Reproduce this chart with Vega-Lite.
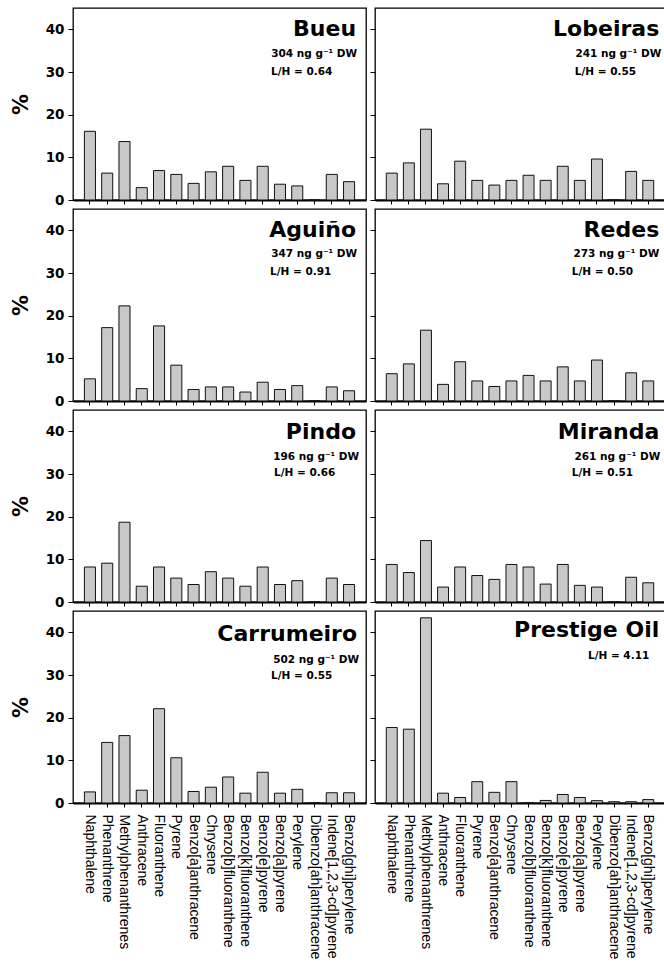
{
  "$schema": "https://vega.github.io/schema/vega-lite/v6.json",
  "padding": {"left": 9, "top": 7, "right": 0, "bottom": 0},
  "background": "white",
  "datasets": {
    "pah": [
      {"site":"Bueu","compound":"Naphthalene","pct":16.1},{"site":"Bueu","compound":"Phenanthrene","pct":6.3},{"site":"Bueu","compound":"Methylphenanthrenes","pct":13.7},{"site":"Bueu","compound":"Anthracene","pct":2.9},{"site":"Bueu","compound":"Fluoranthene","pct":6.9},{"site":"Bueu","compound":"Pyrene","pct":6.0},{"site":"Bueu","compound":"Benzo[a]anthracene","pct":3.9},{"site":"Bueu","compound":"Chrysene","pct":6.6},{"site":"Bueu","compound":"Benzo[b]fluoranthene","pct":7.9},{"site":"Bueu","compound":"Benzo[k]fluoranthene","pct":4.6},{"site":"Bueu","compound":"Benzo[e]pyrene","pct":7.9},{"site":"Bueu","compound":"Benzo[a]pyrene","pct":3.7},{"site":"Bueu","compound":"Perylene","pct":3.3},{"site":"Bueu","compound":"Dibenzo[ah]anthracene","pct":0},{"site":"Bueu","compound":"Indene[1,2,3-cd]pyrene","pct":6.0},{"site":"Bueu","compound":"Benzo[ghi]perylene","pct":4.3},
      {"site":"Lobeiras","compound":"Naphthalene","pct":6.3},{"site":"Lobeiras","compound":"Phenanthrene","pct":8.7},{"site":"Lobeiras","compound":"Methylphenanthrenes","pct":16.6},{"site":"Lobeiras","compound":"Anthracene","pct":3.8},{"site":"Lobeiras","compound":"Fluoranthene","pct":9.1},{"site":"Lobeiras","compound":"Pyrene","pct":4.6},{"site":"Lobeiras","compound":"Benzo[a]anthracene","pct":3.5},{"site":"Lobeiras","compound":"Chrysene","pct":4.6},{"site":"Lobeiras","compound":"Benzo[b]fluoranthene","pct":5.8},{"site":"Lobeiras","compound":"Benzo[k]fluoranthene","pct":4.6},{"site":"Lobeiras","compound":"Benzo[e]pyrene","pct":7.9},{"site":"Lobeiras","compound":"Benzo[a]pyrene","pct":4.6},{"site":"Lobeiras","compound":"Perylene","pct":9.6},{"site":"Lobeiras","compound":"Dibenzo[ah]anthracene","pct":0},{"site":"Lobeiras","compound":"Indene[1,2,3-cd]pyrene","pct":6.7},{"site":"Lobeiras","compound":"Benzo[ghi]perylene","pct":4.6},
      {"site":"Aguiño","compound":"Naphthalene","pct":5.2},{"site":"Aguiño","compound":"Phenanthrene","pct":17.2},{"site":"Aguiño","compound":"Methylphenanthrenes","pct":22.3},{"site":"Aguiño","compound":"Anthracene","pct":2.9},{"site":"Aguiño","compound":"Fluoranthene","pct":17.6},{"site":"Aguiño","compound":"Pyrene","pct":8.4},{"site":"Aguiño","compound":"Benzo[a]anthracene","pct":2.7},{"site":"Aguiño","compound":"Chrysene","pct":3.3},{"site":"Aguiño","compound":"Benzo[b]fluoranthene","pct":3.3},{"site":"Aguiño","compound":"Benzo[k]fluoranthene","pct":2.1},{"site":"Aguiño","compound":"Benzo[e]pyrene","pct":4.4},{"site":"Aguiño","compound":"Benzo[a]pyrene","pct":2.7},{"site":"Aguiño","compound":"Perylene","pct":3.6},{"site":"Aguiño","compound":"Dibenzo[ah]anthracene","pct":0},{"site":"Aguiño","compound":"Indene[1,2,3-cd]pyrene","pct":3.3},{"site":"Aguiño","compound":"Benzo[ghi]perylene","pct":2.4},
      {"site":"Redes","compound":"Naphthalene","pct":6.4},{"site":"Redes","compound":"Phenanthrene","pct":8.7},{"site":"Redes","compound":"Methylphenanthrenes","pct":16.6},{"site":"Redes","compound":"Anthracene","pct":3.9},{"site":"Redes","compound":"Fluoranthene","pct":9.2},{"site":"Redes","compound":"Pyrene","pct":4.7},{"site":"Redes","compound":"Benzo[a]anthracene","pct":3.4},{"site":"Redes","compound":"Chrysene","pct":4.7},{"site":"Redes","compound":"Benzo[b]fluoranthene","pct":6.0},{"site":"Redes","compound":"Benzo[k]fluoranthene","pct":4.7},{"site":"Redes","compound":"Benzo[e]pyrene","pct":8.0},{"site":"Redes","compound":"Benzo[a]pyrene","pct":4.7},{"site":"Redes","compound":"Perylene","pct":9.6},{"site":"Redes","compound":"Dibenzo[ah]anthracene","pct":0},{"site":"Redes","compound":"Indene[1,2,3-cd]pyrene","pct":6.6},{"site":"Redes","compound":"Benzo[ghi]perylene","pct":4.7},
      {"site":"Pindo","compound":"Naphthalene","pct":8.2},{"site":"Pindo","compound":"Phenanthrene","pct":9.1},{"site":"Pindo","compound":"Methylphenanthrenes","pct":18.7},{"site":"Pindo","compound":"Anthracene","pct":3.7},{"site":"Pindo","compound":"Fluoranthene","pct":8.2},{"site":"Pindo","compound":"Pyrene","pct":5.6},{"site":"Pindo","compound":"Benzo[a]anthracene","pct":4.1},{"site":"Pindo","compound":"Chrysene","pct":7.1},{"site":"Pindo","compound":"Benzo[b]fluoranthene","pct":5.6},{"site":"Pindo","compound":"Benzo[k]fluoranthene","pct":3.7},{"site":"Pindo","compound":"Benzo[e]pyrene","pct":8.2},{"site":"Pindo","compound":"Benzo[a]pyrene","pct":4.1},{"site":"Pindo","compound":"Perylene","pct":5.0},{"site":"Pindo","compound":"Dibenzo[ah]anthracene","pct":0},{"site":"Pindo","compound":"Indene[1,2,3-cd]pyrene","pct":5.6},{"site":"Pindo","compound":"Benzo[ghi]perylene","pct":4.1},
      {"site":"Miranda","compound":"Naphthalene","pct":8.8},{"site":"Miranda","compound":"Phenanthrene","pct":6.9},{"site":"Miranda","compound":"Methylphenanthrenes","pct":14.4},{"site":"Miranda","compound":"Anthracene","pct":3.5},{"site":"Miranda","compound":"Fluoranthene","pct":8.2},{"site":"Miranda","compound":"Pyrene","pct":6.2},{"site":"Miranda","compound":"Benzo[a]anthracene","pct":5.3},{"site":"Miranda","compound":"Chrysene","pct":8.8},{"site":"Miranda","compound":"Benzo[b]fluoranthene","pct":8.2},{"site":"Miranda","compound":"Benzo[k]fluoranthene","pct":4.2},{"site":"Miranda","compound":"Benzo[e]pyrene","pct":8.8},{"site":"Miranda","compound":"Benzo[a]pyrene","pct":3.9},{"site":"Miranda","compound":"Perylene","pct":3.5},{"site":"Miranda","compound":"Dibenzo[ah]anthracene","pct":0},{"site":"Miranda","compound":"Indene[1,2,3-cd]pyrene","pct":5.8},{"site":"Miranda","compound":"Benzo[ghi]perylene","pct":4.5},
      {"site":"Carrumeiro","compound":"Naphthalene","pct":2.6},{"site":"Carrumeiro","compound":"Phenanthrene","pct":14.2},{"site":"Carrumeiro","compound":"Methylphenanthrenes","pct":15.8},{"site":"Carrumeiro","compound":"Anthracene","pct":3.0},{"site":"Carrumeiro","compound":"Fluoranthene","pct":22.1},{"site":"Carrumeiro","compound":"Pyrene","pct":10.6},{"site":"Carrumeiro","compound":"Benzo[a]anthracene","pct":2.7},{"site":"Carrumeiro","compound":"Chrysene","pct":3.7},{"site":"Carrumeiro","compound":"Benzo[b]fluoranthene","pct":6.1},{"site":"Carrumeiro","compound":"Benzo[k]fluoranthene","pct":2.3},{"site":"Carrumeiro","compound":"Benzo[e]pyrene","pct":7.2},{"site":"Carrumeiro","compound":"Benzo[a]pyrene","pct":2.3},{"site":"Carrumeiro","compound":"Perylene","pct":3.2},{"site":"Carrumeiro","compound":"Dibenzo[ah]anthracene","pct":0},{"site":"Carrumeiro","compound":"Indene[1,2,3-cd]pyrene","pct":2.4},{"site":"Carrumeiro","compound":"Benzo[ghi]perylene","pct":2.4},
      {"site":"Prestige Oil","compound":"Naphthalene","pct":17.7},{"site":"Prestige Oil","compound":"Phenanthrene","pct":17.3},{"site":"Prestige Oil","compound":"Methylphenanthrenes","pct":43.4},{"site":"Prestige Oil","compound":"Anthracene","pct":2.3},{"site":"Prestige Oil","compound":"Fluoranthene","pct":1.3},{"site":"Prestige Oil","compound":"Pyrene","pct":5.0},{"site":"Prestige Oil","compound":"Benzo[a]anthracene","pct":2.5},{"site":"Prestige Oil","compound":"Chrysene","pct":5.0},{"site":"Prestige Oil","compound":"Benzo[b]fluoranthene","pct":0},{"site":"Prestige Oil","compound":"Benzo[k]fluoranthene","pct":0.6},{"site":"Prestige Oil","compound":"Benzo[e]pyrene","pct":2.0},{"site":"Prestige Oil","compound":"Benzo[a]pyrene","pct":1.3},{"site":"Prestige Oil","compound":"Perylene","pct":0.55},{"site":"Prestige Oil","compound":"Dibenzo[ah]anthracene","pct":0.3},{"site":"Prestige Oil","compound":"Indene[1,2,3-cd]pyrene","pct":0.3},{"site":"Prestige Oil","compound":"Benzo[ghi]perylene","pct":0.8}
    ],
    "notes": [
      {"site":"Bueu","name":"Bueu","conc":"304 ng g⁻¹ DW","lh":"L/H = 0.64"},
      {"site":"Lobeiras","name":"Lobeiras","conc":"241 ng g⁻¹ DW","lh":"L/H = 0.55"},
      {"site":"Aguiño","name":"Aguiño","conc":"347 ng g⁻¹ DW","lh":"L/H = 0.91"},
      {"site":"Redes","name":"Redes","conc":"273 ng g⁻¹ DW","lh":"L/H = 0.50"},
      {"site":"Pindo","name":"Pindo","conc":"196 ng g⁻¹ DW","lh":"L/H = 0.66"},
      {"site":"Miranda","name":"Miranda","conc":"261  ng g⁻¹ DW","lh":"L/H = 0.51"},
      {"site":"Carrumeiro","name":"Carrumeiro","conc":"502 ng g⁻¹ DW","lh":"L/H = 0.55"},
      {"site":"Prestige Oil","name":"Prestige Oil","conc":"","lh":"L/H = 4.11"}
    ]
  },
  "spacing": 0,
  "vconcat": [
    {"spacing": 1, "hconcat": [
      {"width": 293, "height": 192, "layer": [
        {"data": {"name": "pah"}, "transform": [{"filter": "datum.site === 'Bueu'"}], "mark": "bar",
         "encoding": {"x": {"field": "compound", "type": "nominal", "sort": null, "title": null, "axis": {"labels": false}},
                      "y": {"field": "pct", "type": "quantitative", "scale": {"domain": [0, 45], "nice": false}, "axis": {"title": "%", "values": [0, 10, 20, 30, 40]}}}},
        {"data": {"name": "notes"}, "transform": [{"filter": "datum.site === 'Bueu'"}], "mark": {"type": "text", "style": "ttl", "dx": 7},
         "encoding": {"x": {"datum": "Benzo[ghi]perylene"}, "y": {"datum": 40}, "text": {"field": "name"}}},
        {"data": {"name": "notes"}, "transform": [{"filter": "datum.site === 'Bueu'"}], "mark": {"type": "text", "style": "conc", "dx": 8},
         "encoding": {"x": {"datum": "Benzo[ghi]perylene"}, "y": {"datum": 34.2}, "text": {"field": "conc"}}},
        {"data": {"name": "notes"}, "transform": [{"filter": "datum.site === 'Bueu'"}], "mark": {"type": "text", "style": "lh", "dx": -9},
         "encoding": {"x": {"datum": "Benzo[a]pyrene"}, "y": {"datum": 30.1}, "text": {"field": "lh"}}}
      ]},
      {"width": 290, "height": 192, "layer": [
        {"data": {"name": "pah"}, "transform": [{"filter": "datum.site === 'Lobeiras'"}], "mark": "bar",
         "encoding": {"x": {"field": "compound", "type": "nominal", "sort": null, "title": null, "axis": {"labels": false}},
                      "y": {"field": "pct", "type": "quantitative", "scale": {"domain": [0, 45], "nice": false}, "title": null, "axis": {"labels": false, "values": [0, 10, 20, 30, 40]}}}},
        {"data": {"name": "notes"}, "transform": [{"filter": "datum.site === 'Lobeiras'"}], "mark": {"type": "text", "style": "ttl", "dx": 11},
         "encoding": {"x": {"datum": "Benzo[ghi]perylene"}, "y": {"datum": 40}, "text": {"field": "name"}}},
        {"data": {"name": "notes"}, "transform": [{"filter": "datum.site === 'Lobeiras'"}], "mark": {"type": "text", "style": "conc", "dx": 13},
         "encoding": {"x": {"datum": "Benzo[ghi]perylene"}, "y": {"datum": 34.2}, "text": {"field": "conc"}}},
        {"data": {"name": "notes"}, "transform": [{"filter": "datum.site === 'Lobeiras'"}], "mark": {"type": "text", "style": "lh", "dx": -5},
         "encoding": {"x": {"datum": "Benzo[a]pyrene"}, "y": {"datum": 30.1}, "text": {"field": "lh"}}}
      ]}
    ]},
    {"spacing": 1, "hconcat": [
      {"width": 293, "height": 192, "layer": [
        {"data": {"name": "pah"}, "transform": [{"filter": "datum.site === 'Aguiño'"}], "mark": "bar",
         "encoding": {"x": {"field": "compound", "type": "nominal", "sort": null, "title": null, "axis": {"labels": false}},
                      "y": {"field": "pct", "type": "quantitative", "scale": {"domain": [0, 45], "nice": false}, "axis": {"title": "%", "values": [0, 10, 20, 30, 40]}}}},
        {"data": {"name": "notes"}, "transform": [{"filter": "datum.site === 'Aguiño'"}], "mark": {"type": "text", "style": "ttl", "dx": 7},
         "encoding": {"x": {"datum": "Benzo[ghi]perylene"}, "y": {"datum": 40}, "text": {"field": "name"}}},
        {"data": {"name": "notes"}, "transform": [{"filter": "datum.site === 'Aguiño'"}], "mark": {"type": "text", "style": "conc", "dx": 8},
         "encoding": {"x": {"datum": "Benzo[ghi]perylene"}, "y": {"datum": 34.4}, "text": {"field": "conc"}}},
        {"data": {"name": "notes"}, "transform": [{"filter": "datum.site === 'Aguiño'"}], "mark": {"type": "text", "style": "lh", "dx": -10},
         "encoding": {"x": {"datum": "Benzo[a]pyrene"}, "y": {"datum": 30.2}, "text": {"field": "lh"}}}
      ]},
      {"width": 290, "height": 192, "layer": [
        {"data": {"name": "pah"}, "transform": [{"filter": "datum.site === 'Redes'"}], "mark": "bar",
         "encoding": {"x": {"field": "compound", "type": "nominal", "sort": null, "title": null, "axis": {"labels": false}},
                      "y": {"field": "pct", "type": "quantitative", "scale": {"domain": [0, 45], "nice": false}, "title": null, "axis": {"labels": false, "values": [0, 10, 20, 30, 40]}}}},
        {"data": {"name": "notes"}, "transform": [{"filter": "datum.site === 'Redes'"}], "mark": {"type": "text", "style": "ttl", "dx": 11},
         "encoding": {"x": {"datum": "Benzo[ghi]perylene"}, "y": {"datum": 40}, "text": {"field": "name"}}},
        {"data": {"name": "notes"}, "transform": [{"filter": "datum.site === 'Redes'"}], "mark": {"type": "text", "style": "conc", "dx": 11},
         "encoding": {"x": {"datum": "Benzo[ghi]perylene"}, "y": {"datum": 34.4}, "text": {"field": "conc"}}},
        {"data": {"name": "notes"}, "transform": [{"filter": "datum.site === 'Redes'"}], "mark": {"type": "text", "style": "lh", "dx": -8},
         "encoding": {"x": {"datum": "Benzo[a]pyrene"}, "y": {"datum": 30.2}, "text": {"field": "lh"}}}
      ]}
    ]},
    {"spacing": 1, "hconcat": [
      {"width": 293, "height": 192, "layer": [
        {"data": {"name": "pah"}, "transform": [{"filter": "datum.site === 'Pindo'"}], "mark": "bar",
         "encoding": {"x": {"field": "compound", "type": "nominal", "sort": null, "title": null, "axis": {"labels": false}},
                      "y": {"field": "pct", "type": "quantitative", "scale": {"domain": [0, 45], "nice": false}, "axis": {"title": "%", "values": [0, 10, 20, 30, 40]}}}},
        {"data": {"name": "notes"}, "transform": [{"filter": "datum.site === 'Pindo'"}], "mark": {"type": "text", "style": "ttl", "dx": 7},
         "encoding": {"x": {"datum": "Benzo[ghi]perylene"}, "y": {"datum": 39.8}, "text": {"field": "name"}}},
        {"data": {"name": "notes"}, "transform": [{"filter": "datum.site === 'Pindo'"}], "mark": {"type": "text", "style": "conc", "dx": 10},
         "encoding": {"x": {"datum": "Benzo[ghi]perylene"}, "y": {"datum": 34.0}, "text": {"field": "conc"}}},
        {"data": {"name": "notes"}, "transform": [{"filter": "datum.site === 'Pindo'"}], "mark": {"type": "text", "style": "lh", "dx": -6},
         "encoding": {"x": {"datum": "Benzo[a]pyrene"}, "y": {"datum": 30.2}, "text": {"field": "lh"}}}
      ]},
      {"width": 290, "height": 192, "layer": [
        {"data": {"name": "pah"}, "transform": [{"filter": "datum.site === 'Miranda'"}], "mark": "bar",
         "encoding": {"x": {"field": "compound", "type": "nominal", "sort": null, "title": null, "axis": {"labels": false}},
                      "y": {"field": "pct", "type": "quantitative", "scale": {"domain": [0, 45], "nice": false}, "title": null, "axis": {"labels": false, "values": [0, 10, 20, 30, 40]}}}},
        {"data": {"name": "notes"}, "transform": [{"filter": "datum.site === 'Miranda'"}], "mark": {"type": "text", "style": "ttl", "dx": 11},
         "encoding": {"x": {"datum": "Benzo[ghi]perylene"}, "y": {"datum": 39.8}, "text": {"field": "name"}}},
        {"data": {"name": "notes"}, "transform": [{"filter": "datum.site === 'Miranda'"}], "mark": {"type": "text", "style": "conc", "dx": 12},
         "encoding": {"x": {"datum": "Benzo[ghi]perylene"}, "y": {"datum": 34.0}, "text": {"field": "conc"}}},
        {"data": {"name": "notes"}, "transform": [{"filter": "datum.site === 'Miranda'"}], "mark": {"type": "text", "style": "lh", "dx": -8},
         "encoding": {"x": {"datum": "Benzo[a]pyrene"}, "y": {"datum": 30.2}, "text": {"field": "lh"}}}
      ]}
    ]},
    {"spacing": 1, "hconcat": [
      {"width": 293, "height": 192, "layer": [
        {"data": {"name": "pah"}, "transform": [{"filter": "datum.site === 'Carrumeiro'"}], "mark": "bar",
         "encoding": {"x": {"field": "compound", "type": "nominal", "sort": null, "title": null, "axis": {"labelAngle": 90}},
                      "y": {"field": "pct", "type": "quantitative", "scale": {"domain": [0, 45], "nice": false}, "axis": {"title": "%", "values": [0, 10, 20, 30, 40]}}}},
        {"data": {"name": "notes"}, "transform": [{"filter": "datum.site === 'Carrumeiro'"}], "mark": {"type": "text", "style": "ttl", "dx": 8},
         "encoding": {"x": {"datum": "Benzo[ghi]perylene"}, "y": {"datum": 39.6}, "text": {"field": "name"}}},
        {"data": {"name": "notes"}, "transform": [{"filter": "datum.site === 'Carrumeiro'"}], "mark": {"type": "text", "style": "conc", "dx": 10},
         "encoding": {"x": {"datum": "Benzo[ghi]perylene"}, "y": {"datum": 33.4}, "text": {"field": "conc"}}},
        {"data": {"name": "notes"}, "transform": [{"filter": "datum.site === 'Carrumeiro'"}], "mark": {"type": "text", "style": "lh", "dx": -9},
         "encoding": {"x": {"datum": "Benzo[a]pyrene"}, "y": {"datum": 29.8}, "text": {"field": "lh"}}}
      ]},
      {"width": 290, "height": 192, "layer": [
        {"data": {"name": "pah"}, "transform": [{"filter": "datum.site === 'Prestige Oil'"}], "mark": "bar",
         "encoding": {"x": {"field": "compound", "type": "nominal", "sort": null, "title": null, "axis": {"labelAngle": 90}},
                      "y": {"field": "pct", "type": "quantitative", "scale": {"domain": [0, 45], "nice": false}, "title": null, "axis": {"labels": false, "values": [0, 10, 20, 30, 40]}}}},
        {"data": {"name": "notes"}, "transform": [{"filter": "datum.site === 'Prestige Oil'"}], "mark": {"type": "text", "style": "ttl", "dx": 11},
         "encoding": {"x": {"datum": "Benzo[ghi]perylene"}, "y": {"datum": 40.6}, "text": {"field": "name"}}},
        {"data": {"name": "notes"}, "transform": [{"filter": "datum.site === 'Prestige Oil'"}], "mark": {"type": "text", "style": "lh", "dx": -9},
         "encoding": {"x": {"datum": "Perylene"}, "y": {"datum": 34.4}, "text": {"field": "lh"}}}
      ]}
    ]}
  ],
  "config": {
    "view": {"stroke": "black", "strokeWidth": 1.3},
    "scale": {"bandPaddingInner": 0.36, "bandPaddingOuter": 0.66},
    "bar": {"color": "#c8c8c8", "stroke": "#111111", "strokeWidth": 1},
    "axis": {"grid": false, "domain": false, "tickColor": "black", "tickWidth": 1, "labelColor": "black", "titleColor": "black"},
    "axisX": {"tickSize": 4, "domain": true, "domainColor": "black", "domainWidth": 2, "labelFont": "Liberation Sans", "labelFontSize": 14, "labelPadding": 7, "labelAngle": 90, "labelLimit": 400},
    "axisY": {"tickSize": 5, "labelFont": "DejaVu Sans", "labelFontWeight": "bold", "labelFontSize": 13.5, "labelPadding": 4, "titleFont": "DejaVu Sans", "titleFontSize": 21, "titleFontWeight": "bold", "titlePadding": 14},
    "style": {
      "ttl": {"font": "DejaVu Sans", "fontSize": 22, "fontWeight": "bold", "align": "right", "baseline": "middle", "color": "black"},
      "conc": {"font": "DejaVu Sans", "fontSize": 10.5, "fontWeight": "bold", "align": "right", "baseline": "middle", "color": "black"},
      "lh": {"font": "DejaVu Sans", "fontSize": 10.5, "fontWeight": "bold", "align": "left", "baseline": "middle", "color": "black"}
    }
  }
}
